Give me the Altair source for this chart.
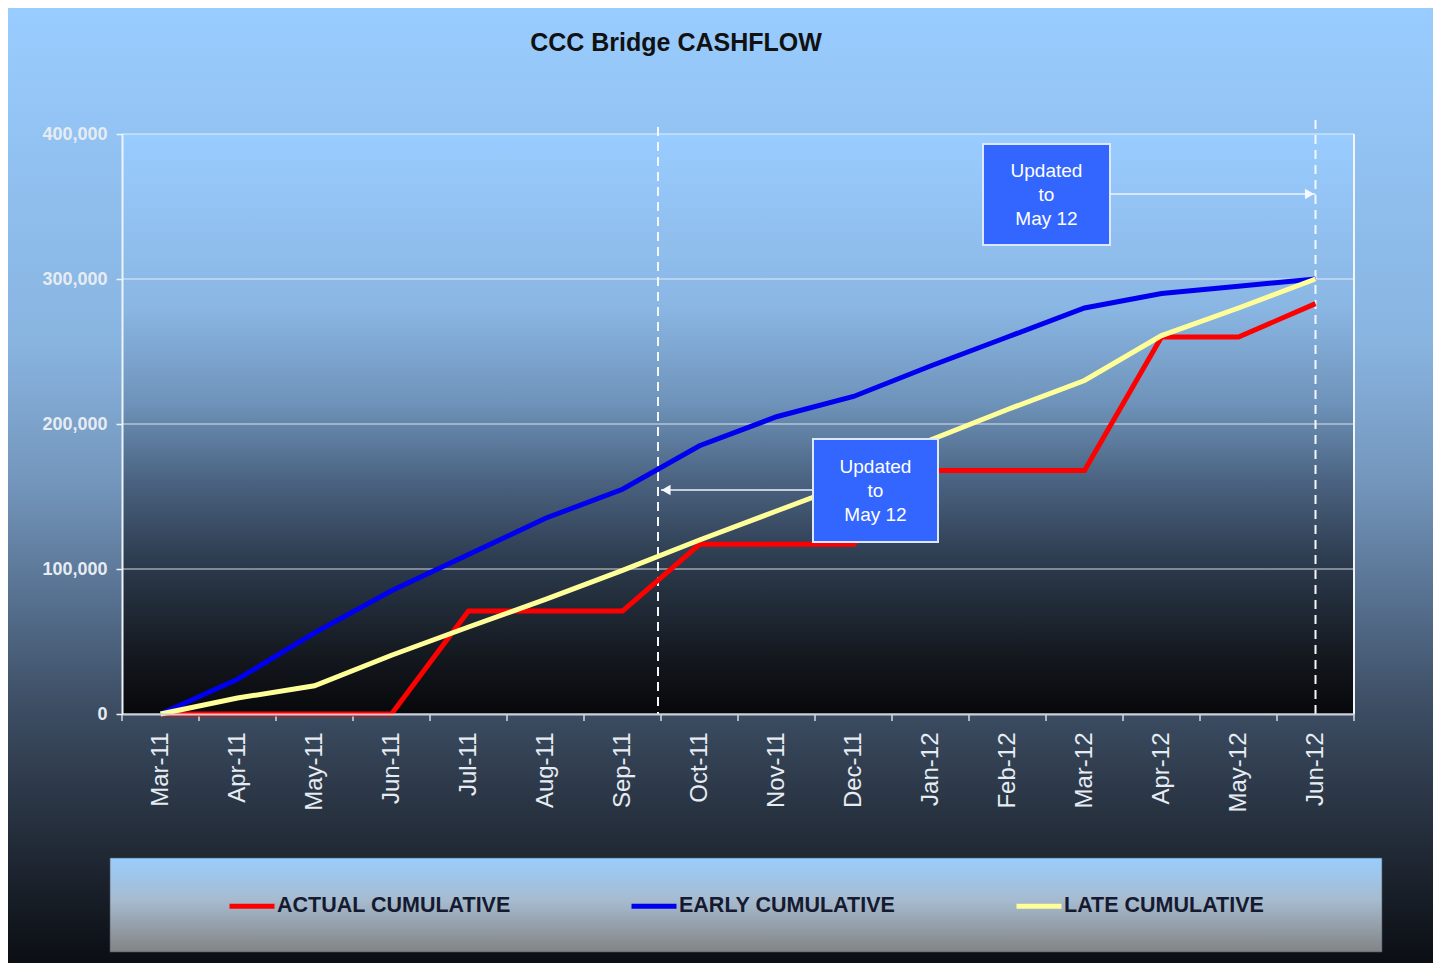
import altair as alt
import pandas as pd

# ---------------- data ----------------
months = ["Mar-11", "Apr-11", "May-11", "Jun-11", "Jul-11", "Aug-11", "Sep-11", "Oct-11",
          "Nov-11", "Dec-11", "Jan-12", "Feb-12", "Mar-12", "Apr-12", "May-12", "Jun-12"]
actual = [0, 0, 0, 0, 71000, 71000, 71000, 117000, 117000, 117000,
          168000, 168000, 168000, 260000, 260000, 283000]
early = [0, 24000, 56000, 85000, 110000, 135000, 155000, 185000, 205000, 219000,
         240000, 260000, 280000, 290000, 295000, 300000]
late = [0, 11000, 19500, 40500, 60000, 79000, 99000, 120000, 140000, 160000,
        189000, 210000, 230000, 261000, 280000, 300000]
series_names = ["ACTUAL CUMULATIVE", "EARLY CUMULATIVE", "LATE CUMULATIVE"]
series_colors = ["#ff0000", "#0000ee", "#ffff99"]
y_ticks = [0, 100000, 200000, 300000, 400000]
note_lines = ["Updated", "to", "May 12"]
past_update_month = ["Oct-11"]   # dashed marker at the start of this month
now_update_month = ["Jun-12"]    # dashed marker at this month
title_text = "CCC Bridge CASHFLOW"

# ---------------- layout ----------------
W, H = 1232, 580
PAD = {"left": 114, "top": 126, "right": 79, "bottom": 249}
FONT = "Liberation Sans"

rows = []
for name, vals in zip(series_names, [actual, early, late]):
    for m, v in zip(months, vals):
        rows.append({"month": m, "series": name, "value": v})
df = pd.DataFrame(rows)
one = pd.DataFrame({"k": [0]})

x_scale = alt.Scale(type="band", domain=months, paddingInner=0, paddingOuter=0)
y_scale = alt.Scale(domain=[0, 400000])

x_axis = alt.Axis(
    zindex=1, grid=False, labelAngle=-90, labelFontSize=24, labelFontWeight="normal",
    labelColor="#e6ecf2", labelFont=FONT, ticks=False, tickSize=0, labelPadding=18,
    domainColor="#c9d1da", domainWidth=2)
y_axis = alt.Axis(
    zindex=1, grid=False, values=y_ticks, format=",.0f", labelFontSize=18,
    labelFontWeight="bold", labelColor="#e6ecf2", labelFont=FONT, tickSize=6,
    tickWidth=1.5, tickColor="#eef3f8", labelPadding=9, domainColor="#eef3f8",
    domainWidth=2)


def grad(stops):
    return alt.Gradient(gradient="linear", x1=0, x2=0, y1=0, y2=1,
                        stops=[alt.GradientStop(offset=o, color=c) for o, c in stops])


def X(**kw):
    return alt.X("month:N", scale=x_scale, sort=months, title=None, axis=x_axis, **kw)


def Y(field):
    return alt.Y(field, scale=y_scale, title=None, axis=y_axis)


# outer background
bg = alt.Chart(one).mark_rect(fill=grad([
    (0.0, "#99ccff"), (0.35, "#88b4e0"), (0.5, "#7395bb"), (0.62, "#56708f"),
    (0.73, "#3d4e64"), (0.87, "#232c39"), (1.0, "#0b0e13")])).encode(
    x=alt.value(-PAD["left"]), x2=alt.value(W + PAD["right"]),
    y=alt.value(-PAD["top"]), y2=alt.value(H + PAD["bottom"]))

# plot area background
plot_bg = alt.Chart(one).mark_rect(fill=grad([
    (0.0, "#99ccff"), (0.3, "#8ab6e3"), (0.46, "#6f94bb"), (0.6, "#4a6280"),
    (0.74, "#2c3b4d"), (0.9, "#14181f"), (1.0, "#07080b")])).encode(
    x=alt.value(0), x2=alt.value(W), y=alt.value(0), y2=alt.value(H))

# legend background
legend_bg = alt.Chart(one).mark_rect(
    fill=grad([(0.0, "#9acdfd"), (0.45, "#a6bbcf"), (1.0, "#828384")]),
    stroke="#4a5560", strokeWidth=1, strokeOpacity=0.6).encode(
    x=alt.value(-12), x2=alt.value(1260), y=alt.value(724), y2=alt.value(818))

# grid lines
grid = alt.Chart(pd.DataFrame({"v": y_ticks})).mark_rule(
    color="#f2f6fa", strokeWidth=1.2, opacity=0.85).encode(
    y=Y("v:Q"), x=alt.value(0), x2=alt.value(W))

# right border of plot
border = alt.Chart(one).mark_rule(color="#f2f6fa", strokeWidth=2).encode(
    x=alt.value(W), y=alt.value(0), y2=alt.value(H))

# x ticks between categories
mdf = pd.DataFrame({"month": months})
ticks = alt.Chart(mdf).mark_rule(color="#d5dde6", strokeWidth=1.5).encode(
    x=X(bandPosition=0), y=alt.value(H), y2=alt.value(H + 7))
ticks_end = alt.Chart(pd.DataFrame({"month": months[-1:]})).mark_rule(
    color="#d5dde6", strokeWidth=1.5).encode(
    x=X(bandPosition=1), y=alt.value(H), y2=alt.value(H + 7))

# dashed markers
dash_past = alt.Chart(pd.DataFrame({"month": past_update_month})).mark_rule(
    color="#f4f8fc", strokeWidth=2, strokeDash=[9, 6], xOffset=-3).encode(
    x=X(bandPosition=0), y=alt.value(-7), y2=alt.value(H))
dash_now = alt.Chart(pd.DataFrame({"month": now_update_month})).mark_rule(
    color="#f4f8fc", strokeWidth=2, strokeDash=[9, 6]).encode(
    x=X(), y=alt.value(-14), y2=alt.value(H))

# data lines
lines = alt.Chart(df).mark_line(strokeWidth=5).encode(
    x=X(),
    y=Y("value:Q"),
    color=alt.Color("series:N", scale=alt.Scale(domain=series_names, range=series_colors),
                    title=None),
)

# annotation boxes
box_style = dict(fill="#3366ff", stroke="#dce8ff", strokeWidth=2)
box1 = alt.Chart(one).mark_rect(**box_style).encode(
    x=alt.value(861), x2=alt.value(988), y=alt.value(10), y2=alt.value(111))
box2 = alt.Chart(one).mark_rect(**box_style).encode(
    x=alt.value(691), x2=alt.value(816), y=alt.value(305), y2=alt.value(408))
txt_style = dict(color="white", fontSize=19, lineHeight=24, align="center",
                 baseline="middle", font=FONT)
txt1 = alt.Chart(one).mark_text(**txt_style).encode(
    x=alt.value(924.5), y=alt.value(37), text=alt.value(note_lines))
txt2 = alt.Chart(one).mark_text(**txt_style).encode(
    x=alt.value(753.5), y=alt.value(333), text=alt.value(note_lines))

# arrows
arr1 = alt.Chart(pd.DataFrame({"month": now_update_month})).mark_rule(
    color="#eef4ff", strokeWidth=1.5).encode(x=X(), x2=alt.value(988), y=alt.value(60))
head1 = alt.Chart(pd.DataFrame({"month": now_update_month})).mark_point(
    shape="triangle-right", filled=True, size=110, color="#f4f8ff", opacity=1, xOffset=-6).encode(
    x=X(), y=alt.value(60))
arr2 = alt.Chart(pd.DataFrame({"month": past_update_month})).mark_rule(
    color="#eef4ff", strokeWidth=1.5).encode(x=X(bandPosition=0), x2=alt.value(691), y=alt.value(356))
head2 = alt.Chart(pd.DataFrame({"month": past_update_month})).mark_point(
    shape="triangle-left", filled=True, size=110, color="#f4f8ff", opacity=1, xOffset=5).encode(
    x=X(bandPosition=0), y=alt.value(356))

# title
title = alt.Chart(one).mark_text(fontSize=25, fontWeight="bold", color="#111111",
                                 font=FONT, align="center", baseline="middle").encode(
    x=alt.value(554), y=alt.value(-91), text=alt.value(title_text))

chart = alt.layer(
    bg, plot_bg, legend_bg, grid, border, ticks, ticks_end, dash_past, dash_now,
    lines, box1, box2, txt1, txt2, arr1, head1, arr2, head2, title
).properties(
    width=W, height=H, padding=PAD, autosize=alt.AutoSizeParams(type="none")
).configure(
    background="white", font=FONT
).configure_view(
    strokeWidth=0
).configure_legend(
    orient="none", legendX=105, legendY=747, direction="horizontal", symbolType="stroke",
    symbolSize=2025, symbolStrokeWidth=5, labelFontSize=21.5, labelFontWeight="bold",
    labelColor="#151a30", labelFont=FONT, labelLimit=400, columnPadding=110,
    labelOffset=0, padding=0
)

chart.save("out.html", embed_options={"renderer": "svg", "actions": False})
